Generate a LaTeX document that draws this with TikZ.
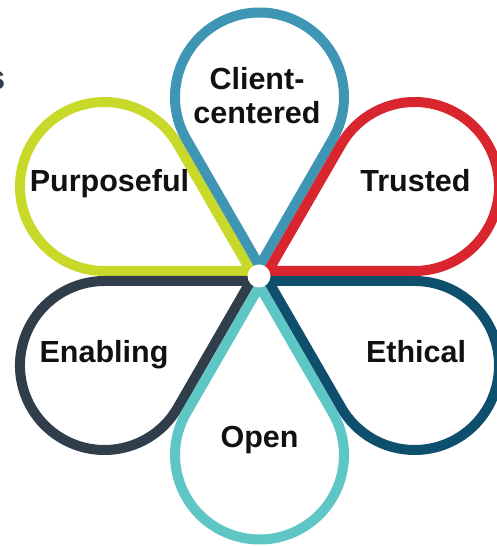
\documentclass[tikz,border=0pt]{standalone}
\usepackage{fontspec}
\setmainfont{Liberation Sans}
\usetikzlibrary{calc}
\definecolor{cBlue}{HTML}{3E95B4}
\definecolor{cRed}{HTML}{D9262E}
\definecolor{cLime}{HTML}{C8D92A}
\definecolor{cSlate}{HTML}{2F3E4A}
\definecolor{cNavy}{HTML}{0D4F6C}
\definecolor{cTeal}{HTML}{5EC6C5}
\definecolor{cText}{HTML}{111111}
\tikzset{
  petal/.style={line width=10pt, line join=round, fill=none},
  lbl/.style={anchor=base, inner sep=0pt, text=cText,
    font=\fontsize{30.5}{34}\selectfont\bfseries, align=center},
}
\begin{document}
\begin{tikzpicture}[x=1pt,y=1pt]
  \useasboundingbox (0,0) rectangle (497,546);
  \clip (0,0) rectangle (497,546);
  \fill[white] (0,0) rectangle (497,546);
  \coordinate (C) at (259.5,270);
  \foreach \a/\col/\nm in {150/cLime/pur, 90/cBlue/cli, 30/cRed/tru, -30/cNavy/eth, -150/cSlate/ena, -90/cTeal/ope} {
    \coordinate (tip\nm) at ($(C)+(\a:10)$);
    \coordinate (o\nm) at ($(C)+(\a:179)$);
    \draw[petal, draw=\col] (tip\nm) -- ($(o\nm)+(\a+120:84.5)$)
      arc[start angle=\a+120, end angle=\a-120, radius=84.5] -- cycle;
  }
  \fill[white] (259,270) circle[radius=11.5];
  \node[lbl] (client) at (257,422) {Client-\\centered};
  \node[lbl] (purp) at (109.5,354) {Purposeful};
  \node[lbl] (trust) at (415.5,354) {Trusted};
  \node[lbl] (enab) at (104,183) {Enabling};
  \node[lbl] (ethic) at (416,183) {Ethical};
  \node[lbl] (open) at (259.5,98) {Open};
  \node[anchor=base east, inner sep=0pt, text=cSlate,
    font=\fontsize{34}{40}\selectfont\bfseries] (s) at (5.5,456) {s};
\end{tikzpicture}
\end{document}
